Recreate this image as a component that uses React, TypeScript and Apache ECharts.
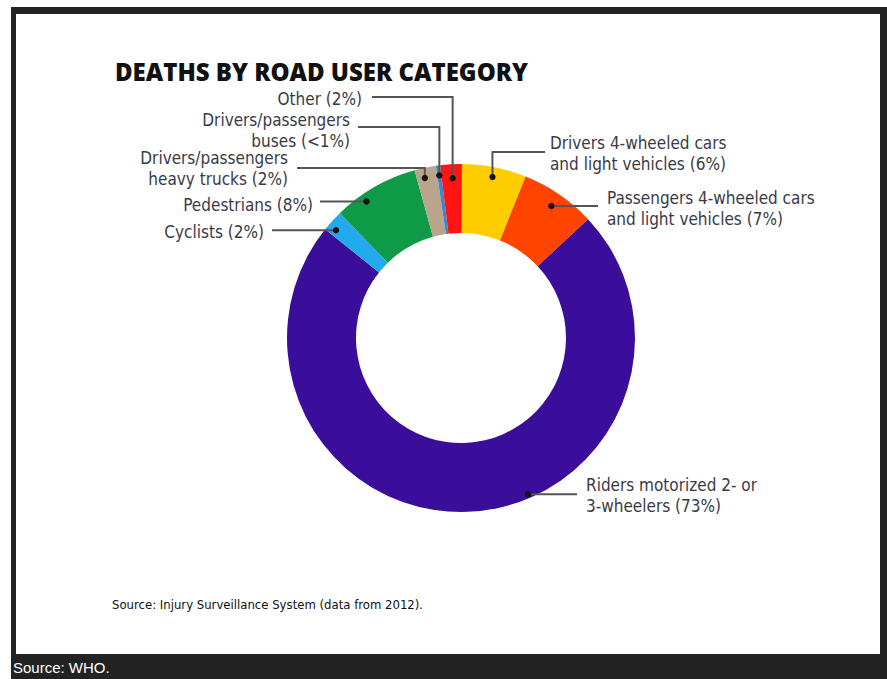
import React, { useEffect, useRef } from "react";
import * as echarts from "echarts";

// ---- data ----
const categories = [
  "Drivers 4-wheeled cars and light vehicles",
  "Passengers 4-wheeled cars and light vehicles",
  "Riders motorized 2- or 3-wheelers",
  "Cyclists",
  "Pedestrians",
  "Drivers/passengers heavy trucks",
  "Drivers/passengers buses",
  "Other",
];
const shares = [6, 7, 73, 2, 8, 2, 0.4, 2];
const labelTexts = [
  "Drivers 4-wheeled cars\nand light vehicles (6%)",
  "Passengers 4-wheeled cars\nand light vehicles (7%)",
  "Riders motorized 2- or\n3-wheelers (73%)",
  "Cyclists (2%)",
  "Pedestrians (8%)",
  "Drivers/passengers\nheavy trucks (2%)",
  "Drivers/passengers\nbuses (<1%)",
  "Other (2%)",
];
const titleText = "DEATHS BY ROAD USER CATEGORY";
const sourceText = "Source: Injury Surveillance System (data from 2012).";
const captionText = "Source: WHO.";

// ---- styles / layout ----
const colors = ["#FFCC00", "#FF4400", "#3A0E9A", "#22AAEE", "#0E9A46", "#B9A58C", "#3F86C8", "#FF1414"];
const CX = 461;
const CY = 338;
const R_OUT = 174;
const R_IN = 105;
const START = 89.7;
// where along each slice the leader dot sits (fraction of slice, radius px)
const dotFrac = [0.5, 0.5, 0.42, 0.29, 0.33, 0.38, 0.5, 0.54];
const dotR = [164, 160, 170, 165, 166, 164, 164, 160];
const leaders: { elbowY?: number; endX: number }[] = [
  { elbowY: 152, endX: 545 },
  { endX: 598 },
  { endX: 577 },
  { endX: 272 },
  { endX: 320 },
  { elbowY: 168, endX: 297 },
  { elbowY: 127, endX: 358 },
  { elbowY: 97, endX: 372 },
];
const labelPos: { x: number; y: number; align: "left" | "right" }[] = [
  { x: 550, y: 132, align: "left" },
  { x: 607, y: 187, align: "left" },
  { x: 586, y: 474, align: "left" },
  { x: 264, y: 221.5, align: "right" },
  { x: 313, y: 194.5, align: "right" },
  { x: 288, y: 147.5, align: "right" },
  { x: 350, y: 109.5, align: "right" },
  { x: 362, y: 88, align: "right" },
];
const LABEL_FONT = "17px 'Liberation Sans Narrow', 'DejaVu Sans Condensed', Roboto, sans-serif";

export default function App() {
  const ref = useRef<HTMLDivElement>(null);
  useEffect(() => {
    if (!ref.current) return;
    const chart = echarts.init(ref.current, null, { renderer: "svg" });
    const total = shares.reduce((a, b) => a + b, 0);
    const cum: number[] = [];
    shares.reduce((acc, v, i) => {
      cum[i] = acc;
      return acc + v;
    }, 0);
    const dotData = shares.map((v, i) => [dotR[i], cum[i] + dotFrac[i] * v]);

    chart.setOption({
      animation: false,
      backgroundColor: "#ffffff",
      title: {
        text: titleText,
        left: 110,
        top: 52,
        textStyle: {
          fontFamily: "'Open Sans', Lato, sans-serif",
          fontWeight: 800,
          fontSize: 24,
          lineHeight: 28,
          color: "#111111",
        },
      },
      graphic: [
        { type: "rect", z: -10, silent: true, shape: { x: 11, y: 7, width: 876, height: 672 }, style: { fill: "#222222" } },
        { type: "rect", z: -9, silent: true, shape: { x: 16, y: 14, width: 864, height: 640 }, style: { fill: "#ffffff" } },
        {
          type: "text",
          z: 5,
          silent: true,
          x: 13,
          y: 667,
          style: { text: captionText, fill: "#ffffff", font: "15px 'Liberation Sans', Arial, sans-serif", verticalAlign: "middle" },
        },
        {
          type: "text",
          z: 5,
          silent: true,
          x: 112,
          y: 604,
          style: {
            text: sourceText,
            fill: "#111111",
            font: "500 13px 'Liberation Sans Narrow', 'DejaVu Sans Condensed', sans-serif",
            verticalAlign: "middle",
          },
        },
      ],
      polar: { center: [CX, CY], radius: R_OUT },
      angleAxis: {
        type: "value",
        min: 0,
        max: total,
        startAngle: START,
        clockwise: true,
        show: false,
        splitLine: { show: false },
        axisLine: { show: false },
        axisLabel: { show: false },
        axisTick: { show: false },
      },
      radiusAxis: {
        type: "value",
        min: 0,
        max: R_OUT,
        show: false,
        splitLine: { show: false },
        axisLine: { show: false },
        axisLabel: { show: false },
        axisTick: { show: false },
      },
      series: [
        {
          type: "pie",
          center: [CX, CY],
          radius: [R_IN, R_OUT],
          startAngle: START,
          clockwise: true,
          silent: true,
          label: { show: false },
          labelLine: { show: false },
          emphasis: { disabled: true },
          z: 2,
          data: categories.map((name, i) => ({ name, value: shares[i], itemStyle: { color: colors[i] } })),
        },
        {
          type: "custom",
          coordinateSystem: "polar",
          silent: true,
          z: 10,
          data: dotData,
          renderItem: (params: any, api: any) => {
            const i = params.dataIndex;
            const p = api.coord([api.value(0), api.value(1)]);
            const L = leaders[i];
            const pts =
              L.elbowY != null
                ? [p, [p[0], L.elbowY], [L.endX, L.elbowY]]
                : [p, [L.endX, p[1]]];
            const lp = labelPos[i];
            return {
              type: "group",
              children: [
                { type: "polyline", shape: { points: pts }, style: { stroke: "#555555", lineWidth: 2, fill: null } },
                { type: "circle", shape: { cx: p[0], cy: p[1], r: 3.2 }, style: { fill: "#111111" } },
                {
                  type: "text",
                  x: lp.x,
                  y: lp.y,
                  style: {
                    text: labelTexts[i],
                    align: lp.align,
                    verticalAlign: "top",
                    font: LABEL_FONT,
                    lineHeight: 21,
                    fill: "#3a3a46",
                  },
                },
              ],
            };
          },
        },
      ],
    });
    return () => chart.dispose();
  }, []);
  return <div ref={ref} style={{ position: "fixed", left: 0, top: 0, width: 887, height: 679 }} />;
}
